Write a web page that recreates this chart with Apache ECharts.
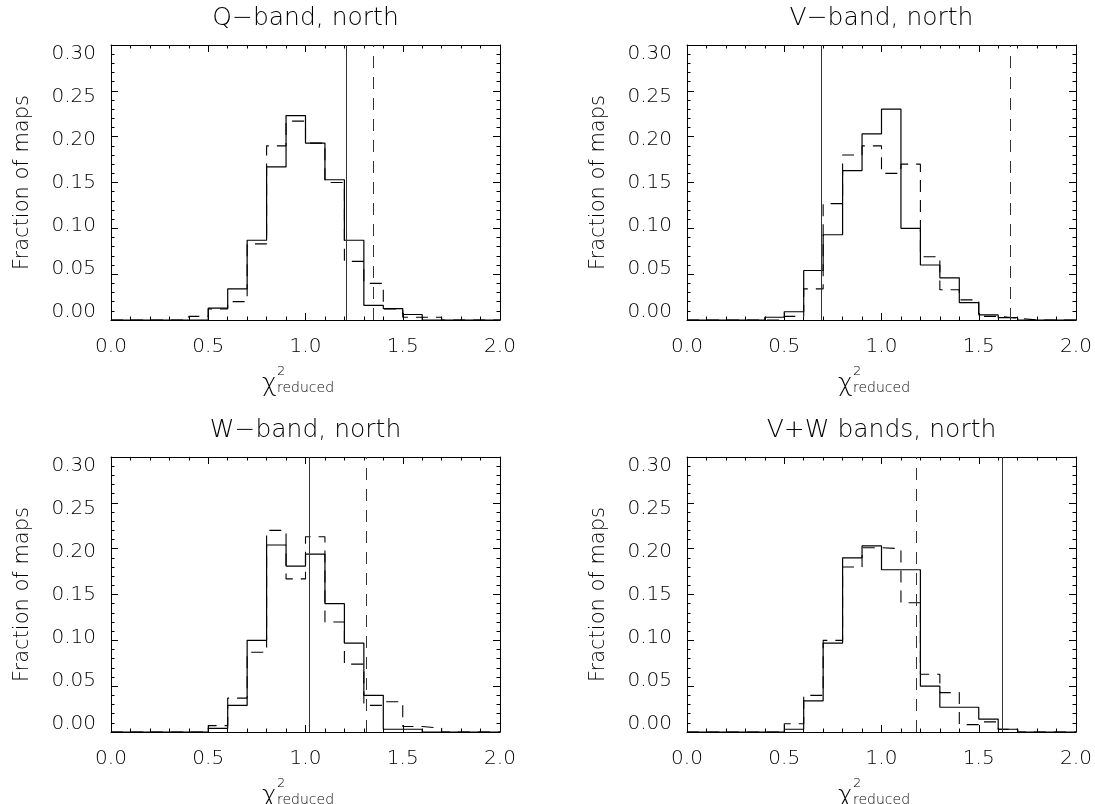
<!DOCTYPE html>
<html>
<head>
<meta charset="utf-8">
<script src="https://cdn.jsdelivr.net/npm/echarts@6/dist/echarts.min.js"></script>
<style>
  html, body { margin: 0; padding: 0; background: #fff; }
  #chart { width: 1095px; height: 804px; }
</style>
</head>
<body>
<div id="chart"></div>
<script>
// histogram bins, width 0.1, left edges
var binLeft = [0.0, 0.1, 0.2, 0.3, 0.4, 0.5, 0.6, 0.7, 0.8, 0.9,
               1.0, 1.1, 1.2, 1.3, 1.4, 1.5, 1.6, 1.7, 1.8, 1.9];
var binWidth = 0.1;

var titles = ['Q\u2212band, north', 'V\u2212band, north', 'W\u2212band, north', 'V+W bands, north'];

// fraction of maps per bin (solid / dashed histograms)
var qSolid  = [0, 0, 0, 0, 0,     0.013, 0.034, 0.087, 0.167, 0.223, 0.193, 0.153, 0.087, 0.016, 0.0125, 0.006, 0,     0, 0, 0];
var qDashed = [0, 0, 0, 0, 0.004, 0.012, 0.020, 0.083, 0.190, 0.217, 0.193, 0.150, 0.064, 0.040, 0.012,  0.003, 0.003, 0, 0, 0];

var vSolid  = [0, 0, 0, 0, 0.003, 0.009, 0.054, 0.093, 0.163, 0.203, 0.230, 0.100, 0.060, 0.046, 0.019, 0.0055, 0.0025, 0, 0, 0];
var vDashed = [0, 0, 0, 0, 0,     0.004, 0.034, 0.127, 0.180, 0.190, 0.160, 0.170, 0.069, 0.033, 0.022, 0.004,  0.002,  0, 0, 0];

var wSolid  = [0, 0, 0, 0, 0, 0.004, 0.029, 0.100, 0.204, 0.181, 0.194, 0.140, 0.097, 0.040, 0.003, 0.003, 0,     0, 0, 0];
var wDashed = [0, 0, 0, 0, 0, 0.007, 0.037, 0.087, 0.220, 0.167, 0.213, 0.120, 0.074, 0.029, 0.033, 0.006, 0.004, 0, 0, 0];

var vwSolid  = [0, 0, 0, 0, 0, 0.003, 0.034, 0.097, 0.190, 0.203, 0.177, 0.177, 0.050, 0.027, 0.027, 0.014, 0.003, 0, 0, 0];
var vwDashed = [0, 0, 0, 0, 0, 0.009, 0.040, 0.100, 0.180, 0.201, 0.200, 0.141, 0.063, 0.043, 0.008, 0.011, 0.003, 0, 0, 0];

// vertical reference lines: [solid, dashed]
var qLines  = [1.213, 1.355];
var vLines  = [0.693, 1.664];
var wLines  = [1.023, 1.307];
var vwLines = [1.623, 1.184];

var xTicks = [0.0, 0.5, 1.0, 1.5, 2.0];
var yTicks = [0.00, 0.05, 0.10, 0.15, 0.20, 0.25, 0.30];

var FONT = 'DejaVu Sans';
var TXT = '#000';

var panels = [
  { title: titles[0], solid: qSolid,  dashed: qDashed,  lines: qLines,  left: 111, top: 45 },
  { title: titles[1], solid: vSolid,  dashed: vDashed,  lines: vLines,  left: 687, top: 45 },
  { title: titles[2], solid: wSolid,  dashed: wDashed,  lines: wLines,  left: 111, top: 457 },
  { title: titles[3], solid: vwSolid, dashed: vwDashed, lines: vwLines, left: 687, top: 457 }
];
var W = 389, H = 275;

function histData(vals) {
  var d = binLeft.map(function (x, k) { return [x, vals[k]]; });
  d.push([binLeft[binLeft.length - 1] + binWidth, vals[vals.length - 1]]);
  return d;
}

function axisCommon(g, pos, labels) {
  return {
    type: 'value', gridIndex: g, position: pos,
    axisLine: { show: true, onZero: false, lineStyle: { color: '#000', width: 1 } },
    axisTick: { show: true, inside: true, length: 7, lineStyle: { color: '#000', width: 1 } },
    minorTick: { show: true, splitNumber: 5, length: 3.5, lineStyle: { color: '#000', width: 1 } },
    splitLine: { show: false },
    minorSplitLine: { show: false },
    axisLabel: { show: labels, fontFamily: FONT, fontWeight: 200, fontSize: 20, color: TXT }
  };
}

var option = { animation: false, backgroundColor: '#fff', grid: [], xAxis: [], yAxis: [], series: [], graphic: [] };

panels.forEach(function (p, i) {
  option.grid.push({ left: p.left, top: p.top, width: W, height: H });

  ['bottom', 'top'].forEach(function (pos, k) {
    var ax = axisCommon(i, pos, k === 0);
    ax.min = xTicks[0];
    ax.max = xTicks[xTicks.length - 1];
    ax.interval = xTicks[1] - xTicks[0];
    ax.axisLabel.margin = 17;
    ax.axisLabel.formatter = function (v) { return v.toFixed(1); };
    option.xAxis.push(ax);
  });
  ['left', 'right'].forEach(function (pos, k) {
    var ax = axisCommon(i, pos, false);
    ax.min = yTicks[0];
    ax.max = yTicks[yTicks.length - 1];
    ax.interval = yTicks[1] - yTicks[0];
    if (k === 0) {
      ax.name = 'Fraction of maps';
      ax.nameLocation = 'middle';
      ax.nameGap = 78;
      ax.nameTextStyle = { fontFamily: FONT, fontWeight: 200, fontSize: 21, color: TXT };
    }
    option.yAxis.push(ax);
  });
  // label-only axis: the printed tick labels sit slightly inside the frame
  option.yAxis.push({
    type: 'value', gridIndex: i, position: 'left', min: -0.01, max: 0.31,
    axisLine: { show: false }, axisTick: { show: false }, splitLine: { show: false },
    axisLabel: {
      show: true, margin: 15, fontFamily: FONT, fontWeight: 200, fontSize: 20, color: TXT,
      customValues: yTicks, formatter: function (v) { return v.toFixed(2); }
    }
  });

  option.series.push({
    type: 'line', xAxisIndex: 2 * i, yAxisIndex: 3 * i,
    data: histData(p.dashed), step: 'end', symbol: 'none', silent: true,
    lineStyle: { color: '#000', width: 1.1, type: [12, 8] }
  });
  option.series.push({
    type: 'line', xAxisIndex: 2 * i, yAxisIndex: 3 * i,
    data: histData(p.solid), step: 'end', symbol: 'none', silent: true,
    lineStyle: { color: '#000', width: 1.2, type: 'solid' },
    markLine: {
      silent: true, symbol: ['none', 'none'], label: { show: false },
      lineStyle: { color: '#333', width: 1 },
      emphasis: { disabled: true },
      data: [
        { xAxis: p.lines[0], lineStyle: { type: 'solid' } },
        { xAxis: p.lines[1], lineStyle: { type: [12, 9] } }
      ]
    }
  });

  // panel title
  option.graphic.push({
    type: 'text', x: p.left + W / 2, y: p.top - 27, silent: true,
    style: { text: p.title, fontFamily: FONT, fontWeight: 200, fontSize: 25, fill: TXT, align: 'center', verticalAlign: 'middle' }
  });
  // x axis label: chi^2_reduced
  var bx = p.left + 151, by = p.top + H;
  option.graphic.push({
    type: 'text', x: bx, y: by + 64, silent: true,
    style: { text: '\u03c7', fontFamily: FONT, fontWeight: 200, fontSize: 25, fill: TXT, align: 'left', verticalAlign: 'middle' }
  });
  option.graphic.push({
    type: 'text', x: bx + 15, y: by + 52, silent: true,
    style: { text: '2', fontFamily: FONT, fontWeight: 200, fontSize: 13, fill: TXT, align: 'left', verticalAlign: 'middle' }
  });
  option.graphic.push({
    type: 'text', x: bx + 15, y: by + 68, silent: true,
    style: { text: 'reduced', fontFamily: FONT, fontWeight: 200, fontSize: 14, fill: TXT, align: 'left', verticalAlign: 'middle' }
  });
});

var chart = echarts.init(document.getElementById('chart'), null, { renderer: 'canvas' });
chart.setOption(option);
</script>
</body>
</html>
